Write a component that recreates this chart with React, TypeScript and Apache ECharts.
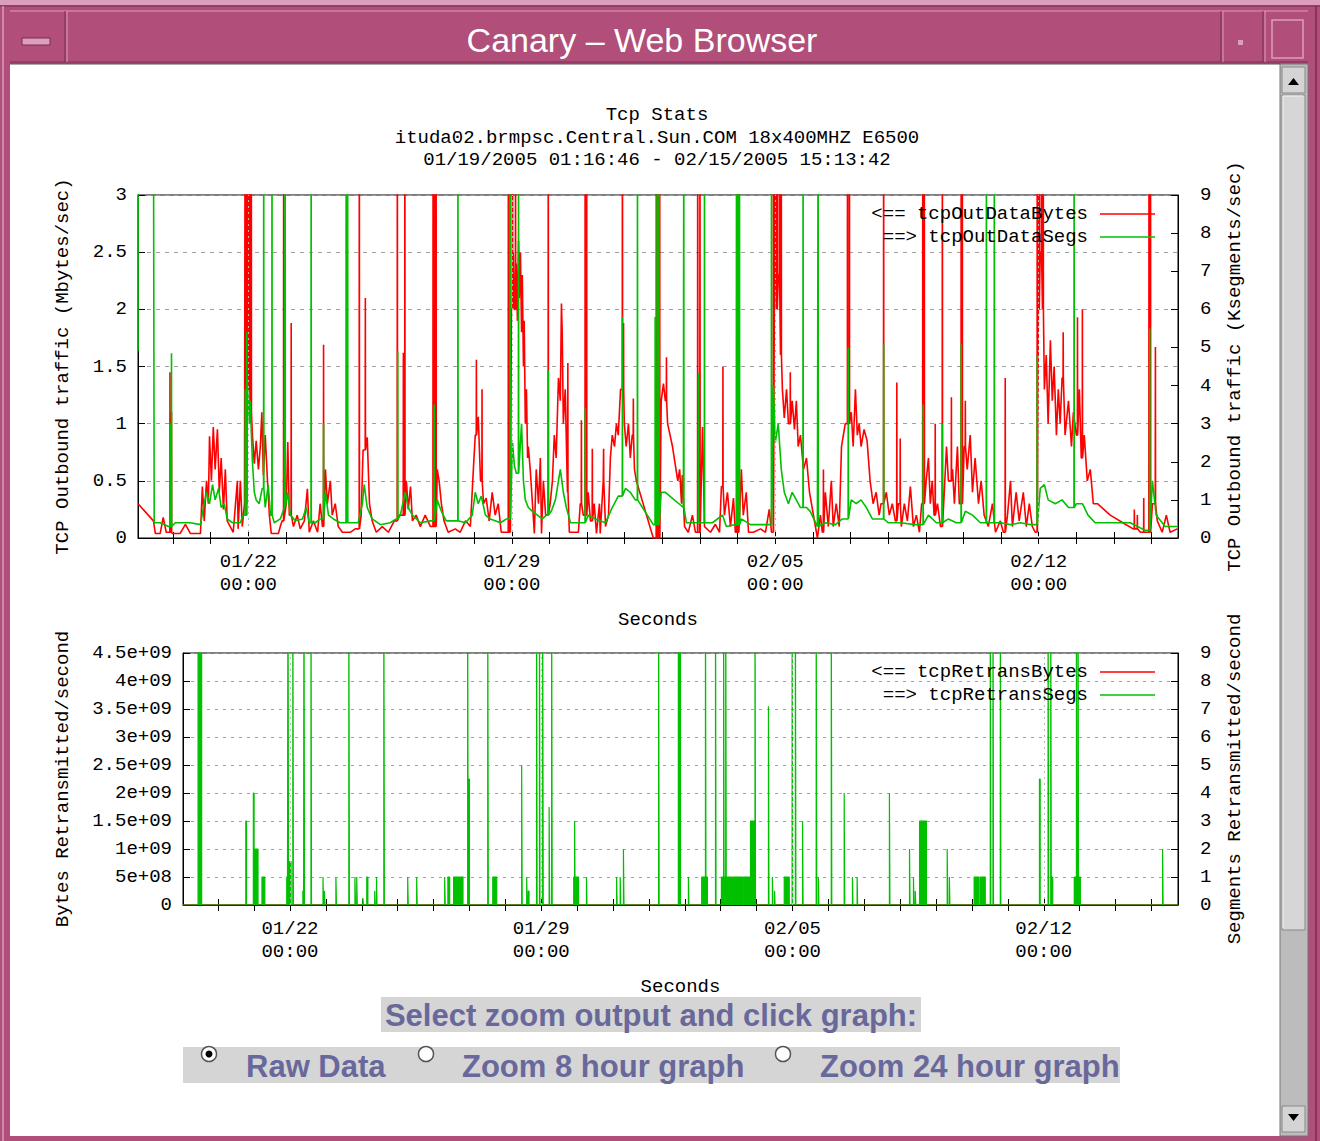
import React, { useEffect, useRef } from 'react';
import * as echarts from 'echarts';

// ---------- texts ----------
const WINDOW_TITLE = 'Canary – Web Browser';
const CHART_TITLE = [
  'Tcp Stats',
  'ituda02.brmpsc.Central.Sun.COM 18x400MHZ E6500',
  '01/19/2005 01:16:46 - 02/15/2005 15:13:42',
];
const TOP_Y_LEFT_NAME = 'TCP Outbound traffic (Mbytes/sec)';
const TOP_Y_RIGHT_NAME = 'TCP Outbound traffic (Ksegments/sec)';
const BOT_Y_LEFT_NAME = 'Bytes Retransmitted/second';
const BOT_Y_RIGHT_NAME = 'Segments Retransmitted/second';
const X_NAME = 'Seconds';
const TOP_LEGEND = ['<== tcpOutDataBytes', '==> tcpOutDataSegs'];
const BOT_LEGEND = ['<== tcpRetransBytes', '==> tcpRetransSegs'];
const FORM_PROMPT = 'Select zoom output and click graph:';
const FORM_OPTIONS = ['Raw Data', 'Zoom 8 hour graph', 'Zoom 24 hour graph'];

// ---------- time axis (days since 01/19/2005 00:00) ----------
const TOP_X_RANGE = [0.07, 27.7];
const BOT_X_RANGE = [0.02, 27.74];
const DAY_TICKS = [1, 2, 3, 4, 5, 6, 7, 8, 9, 10, 11, 12, 13, 14, 15, 16, 17, 18, 19, 20, 21, 22, 23, 24, 25, 26, 27];
const WEEK_TICKS = [3, 10, 17, 24];

// ---------- top chart: tcpOutDataBytes (Mbytes/sec), [day, value] pairs ----------
const RED_BASE = [
  0.07,0.30, 0.48,0.15, 0.53,0.04, 0.66,0.04, 0.74,0.18, 0.82,0.05, 0.98,0.04, 1.19,0.04, 1.33,0.12, 1.46,0.04,
  1.73,0.04, 1.78,0.45, 1.83,0.15, 1.89,0.5, 1.94,0.3, 1.97,0.89, 2.02,0.5, 2.07,0.97, 2.12,0.6, 2.18,0.95,
  2.23,0.4, 2.28,0.7, 2.34,0.25, 2.39,0.6, 2.44,0.15, 2.52,0.1, 2.6,0.05, 2.71,0.5, 2.73,0.08, 2.79,0.5,
  2.84,0.1, 2.9,0.3, 2.97,1.3, 3.05,1.1, 3.11,0.9, 3.16,0.65, 3.21,0.85, 3.27,0.6, 3.32,0.8, 3.36,1.1,
  3.4,0.55, 3.45,0.9, 3.51,0.5, 3.56,0.2, 3.61,0.04, 3.8,0.04, 3.85,0.1, 3.9,0.15, 4.01,0.3, 4.05,0.84,
  4.09,0.2, 4.2,0.1, 4.3,0.2, 4.38,0.08, 4.49,0.15, 4.57,0.43, 4.62,0.05, 4.73,0.15, 4.84,0.05, 4.91,0.3,
  4.97,0.1, 5.05,0.6, 5.1,0.3, 5.18,0.5, 5.23,0.2, 5.31,0.3, 5.39,0.1, 5.5,0.05, 5.71,0.05, 5.84,0.08,
  6.0,0.2, 6.05,0.77, 6.16,0.88, 6.22,0.3, 6.29,0.15, 6.4,0.05, 6.56,0.1, 6.72,0.05, 6.88,0.15, 7.01,0.2,
  7.2,0.5, 7.25,0.25, 7.31,0.45, 7.36,0.15, 7.46,0.2, 7.57,0.1, 7.7,0.2, 7.84,0.1, 8.02,0.6, 8.07,0.5,
  8.13,0.3, 8.2,0.15, 8.31,0.05, 8.5,0.08, 8.63,0.05, 8.77,0.15, 8.9,0.1, 8.98,0.6, 9.03,0.9, 9.11,1.06,
  9.17,0.5, 9.25,0.3, 9.32,0.35, 9.4,0.15, 9.48,0.4, 9.56,0.2, 9.64,0.3, 9.72,0.05, 9.86,0.05, 9.99,2.0,
  10.04,2.5, 10.07,2.0, 10.12,2.4, 10.15,1.9, 10.18,2.6, 10.2,2.1, 10.23,2.5, 10.26,1.8, 10.28,2.3, 10.31,1.5,
  10.33,1.9, 10.36,1.0, 10.39,1.3, 10.42,0.7, 10.44,0.8, 10.49,0.6, 10.55,0.3, 10.6,0.04, 10.65,0.6, 10.71,0.3,
  10.76,0.7, 10.79,0.04, 10.84,0.5, 10.9,0.2, 11.02,0.3, 11.08,0.5, 11.13,0.9, 11.18,0.7, 11.24,1.4, 11.29,1.2,
  11.32,2.05, 11.34,1.8, 11.37,1.0, 11.42,1.3, 11.48,0.4, 11.53,0.05, 11.77,0.05, 11.82,0.3, 11.9,0.2, 12.03,0.4,
  12.09,0.15, 12.19,0.3, 12.25,0.04, 12.33,0.3, 12.35,0.04, 12.43,0.5, 12.49,0.1, 12.57,0.2, 12.62,0.7, 12.67,0.9,
  12.73,0.8, 12.78,1.0, 12.83,0.9, 12.89,1.3, 12.99,1.0, 13.04,0.8, 13.1,1.0, 13.15,0.7, 13.2,0.9, 13.26,0.6,
  13.31,0.5, 13.76,0.0, 13.97,1.2, 14.03,1.35, 14.08,1.2, 14.14,1.0, 14.27,0.8, 14.41,0.5, 14.46,0.6, 14.51,0.3,
  14.53,0.55, 14.59,0.1, 14.69,0.05, 14.8,0.2, 14.88,0.05, 15.07,0.97, 15.12,0.1, 15.28,0.05, 15.41,0.12, 15.52,0.05,
  15.57,0.45, 15.65,0.2, 15.73,0.4, 15.81,0.1, 15.89,0.35, 15.94,0.05, 16.1,0.6, 16.15,0.2, 16.23,0.4, 16.29,0.05,
  16.42,0.05, 16.61,0.08, 16.74,0.05, 16.84,0.25, 16.9,0.05, 16.98,2.5, 17.03,2.0, 17.08,2.3, 17.14,1.6, 17.19,1.3,
  17.24,1.05, 17.3,1.3, 17.35,1.0, 17.45,1.2, 17.51,0.95, 17.56,1.2, 17.61,0.8, 17.67,0.9, 17.75,0.6, 17.83,0.7,
  17.91,0.4, 18.12,0.0, 18.2,0.2, 18.25,0.05, 18.33,0.4, 18.41,0.1, 18.49,0.5, 18.54,0.1, 18.62,0.3, 18.7,0.1,
  18.76,0.8, 18.81,0.9, 18.86,1.0, 19.02,1.1, 19.07,0.8, 19.13,1.3, 19.18,0.9, 19.23,1.0, 19.28,0.8, 19.36,0.95,
  19.44,0.85, 19.52,0.5, 19.6,0.3, 19.68,0.4, 19.76,0.2, 19.81,0.3, 19.95,0.4, 20.03,0.2, 20.11,0.3, 20.19,0.15,
  20.27,0.3, 20.35,0.1, 20.43,0.3, 20.51,0.15, 20.59,0.45, 20.67,0.1, 20.75,0.2, 20.83,0.05, 20.89,0.3, 21.01,0.5,
  21.07,0.7, 21.12,0.3, 21.17,0.5, 21.22,0.2, 21.31,0.3, 21.39,0.1, 21.49,0.4, 21.55,0.8, 21.6,0.5, 21.71,0.6,
  21.76,0.3, 21.84,0.8, 21.89,0.3, 22.02,0.8, 22.1,0.6, 22.18,0.9, 22.24,0.4, 22.31,0.7, 22.4,0.3, 22.47,0.5,
  22.55,0.2, 22.66,0.1, 22.77,0.3, 22.85,0.05, 22.98,0.15, 23.06,0.05, 23.17,0.2, 23.25,0.5, 23.3,0.1, 23.4,0.4,
  23.48,0.15, 23.59,0.4, 23.67,0.1, 23.75,0.3, 23.83,0.1, 23.91,0.05, 23.99,2.0, 24.04,2.5, 24.1,2.0, 24.15,1.3,
  24.2,1.6, 24.25,1.0, 24.31,1.73, 24.36,1.2, 24.41,1.5, 24.47,0.9, 24.52,1.3, 24.57,1.0, 24.62,1.4, 24.7,0.9,
  24.79,1.2, 24.87,0.8, 24.92,1.1, 25.0,0.9, 25.08,1.3, 25.13,0.7, 25.21,0.9, 25.29,0.5, 25.37,0.6, 25.45,0.3,
  25.56,0.3, 25.9,0.2, 26.3,0.12, 26.51,0.08, 26.7,0.05, 26.86,0.05, 27.02,0.3, 27.15,0.15, 27.28,0.05, 27.39,0.2,
  27.49,0.05, 27.68,0.08,
];
// narrow spikes: [day, peak]
const RED_SPIKES = [
  0.92,1.45, 0.96,1.1, 2.92,5, 2.96,5, 3.0,5, 3.04,5, 3.08,5, 3.94,5, 4.14,1.88, 5.0,1.69,
  5.95,5, 6.11,2.1, 6.96,5, 7.12,1.62, 7.16,5, 7.91,5, 7.95,5, 7.99,5, 9.06,1.56, 9.21,1.3,
  9.91,5, 9.96,5, 10.02,5, 10.1,3.5, 10.97,5, 11.49,1.53, 11.85,1.03, 11.95,5, 11.99,5, 12.14,0.78,
  12.44,0.78, 12.94,5, 12.97,1.88, 13.23,1.22, 13.84,5, 13.89,5, 13.93,5, 14.11,1.58, 14.94,5, 15.0,5,
  15.61,1.5, 15.98,5, 16.03,5, 16.95,5, 17.0,5, 17.05,5, 17.11,5, 17.16,5, 17.4,1.45, 18.28,0.6,
  18.92,5, 18.97,5, 19.88,5, 20.23,1.36, 20.32,0.87, 20.92,5, 20.96,5, 21.25,1.0, 21.44,5, 21.68,1.23,
  21.94,5, 21.97,5, 22.05,1.2, 23.11,1.4, 23.96,5, 24.01,5, 24.07,5, 24.12,5, 24.65,1.8, 25.03,1.93,
  25.16,2.0, 26.54,0.25, 26.62,0.2, 26.79,0.35, 26.93,5, 26.97,5, 27.1,1.67,
];

// ---------- top chart: tcpOutDataSegs (Ksegments/sec) ----------
const GREEN_BASE = [
  0.07,4.9, 0.075,12, 0.48,12, 0.5,0.4, 0.66,0.4, 0.88,0.3, 1.06,0.4, 1.46,0.4, 1.73,0.35, 1.81,0.8,
  1.89,1.2, 1.97,0.9, 2.05,1.4, 2.12,1.0, 2.21,1.3, 2.28,0.8, 2.36,0.9, 2.44,0.5, 2.58,0.4, 2.79,0.4,
  2.86,0.6, 2.97,4.2, 3.03,3.0, 3.05,3.6, 3.11,2.0, 3.16,1.2, 3.21,1.0, 3.29,0.9, 3.37,1.3, 3.45,0.8,
  3.53,1.4, 3.59,0.6, 3.69,0.4, 3.85,0.5, 3.96,0.8, 4.04,1.2, 4.12,0.6, 4.25,0.45, 4.44,0.5, 4.54,0.8,
  4.62,0.4, 4.78,0.4, 4.91,0.5, 5.05,1.2, 5.13,0.6, 5.26,0.5, 5.44,0.4, 5.71,0.4, 5.92,0.4, 6.03,0.9,
  6.08,1.4, 6.16,0.8, 6.29,0.5, 6.51,0.35, 6.77,0.4, 6.93,0.5, 7.04,0.6, 7.17,1.2, 7.25,0.8, 7.36,0.6,
  7.57,0.4, 7.84,0.45, 8.02,1.0, 8.13,0.7, 8.26,0.45, 8.77,0.4, 8.95,0.6, 9.03,1.2, 9.11,0.9, 9.19,1.1,
  9.3,0.6, 9.43,0.5, 9.7,0.4, 9.86,0.5, 10.02,2.5, 10.07,1.9, 10.12,1.7, 10.2,2.0, 10.26,3.0, 10.31,1.5,
  10.36,1.0, 10.44,0.8, 10.55,0.7, 10.68,0.6, 10.81,0.5, 10.92,0.6, 11.05,0.7, 11.16,1.0, 11.24,1.5, 11.29,1.8,
  11.37,1.2, 11.45,0.8, 11.56,0.4, 11.82,0.4, 12.03,0.6, 12.22,0.5, 12.49,0.4, 12.67,0.8, 12.83,1.1, 13.02,1.3,
  13.15,1.2, 13.28,1.0, 13.76,0.35, 13.97,1.2, 14.08,1.2, 14.56,0.8, 14.64,0.4, 14.88,0.4, 15.04,0.4, 15.33,0.4,
  15.6,0.6, 15.7,0.3, 15.91,0.35, 16.1,0.5, 16.34,0.35, 16.74,0.35, 16.95,4.0, 17.0,2.5, 17.08,3.0, 17.16,1.8,
  17.24,1.2, 17.35,0.9, 17.45,1.2, 17.56,1.0, 17.67,0.8, 17.83,0.8, 17.93,0.7, 18.12,0.3, 18.33,0.4, 18.6,0.35,
  18.78,0.5, 19.02,1.0, 19.15,0.9, 19.28,1.0, 19.42,0.8, 19.58,0.5, 20.0,0.4, 20.32,0.4, 20.72,0.35, 21.07,0.6,
  21.28,0.4, 21.6,0.5, 21.81,0.4, 22.05,0.7, 22.24,0.6, 22.45,0.4, 22.98,0.4, 23.25,0.35, 23.51,0.4, 23.78,0.35,
  24.04,1.3, 24.15,1.4, 24.25,1.0, 24.44,0.9, 24.62,1.0, 24.79,0.8, 25.0,0.9, 25.16,0.9, 25.31,0.6, 25.5,0.4,
  25.9,0.4, 26.43,0.4, 26.83,0.2, 27.02,1.5, 27.12,0.6, 27.36,0.3, 27.68,0.3,
];
const GREEN_SPIKES = [
  0.92,3.0, 0.96,4.85, 2.92,3.9, 2.96,5.4, 3.41,12, 3.63,12, 3.98,12, 4.67,12, 5.0,3.0, 5.6,12,
  5.64,12, 6.97,4.9, 7.94,3.5, 8.57,12, 9.96,12, 10.18,12, 10.97,4.4, 11.95,3.4, 12.94,5.8, 13.34,12,
  13.81,5.8, 13.86,12, 13.91,12, 14.57,12, 14.96,4.3, 15.12,12, 15.97,12, 16.01,12, 16.05,12, 16.9,12,
  17.74,12, 18.14,12, 18.94,5.0, 19.88,5.1, 20.93,3.5, 21.44,3.0, 21.94,5.1, 22.61,12, 22.82,12, 23.96,4.8,
  24.94,12, 26.95,5.5,
];

// ---------- bottom chart ----------
// tcpRetransBytes stays at zero over the whole period
const RETRANS_BYTES = [0.02,0, 13.9,0, 27.74,0];
// tcpRetransSegs pulses: [startDay, endDay, segments/sec]
const RETRANS_SEGS = [
  0.44,0.54,12, 1.77,1.79,3, 1.98,2.0,4, 2.0,2.11,2, 2.22,2.3,1, 2.91,2.93,1, 2.945,2.96,12, 2.99,3.03,1.55,
  3.08,3.095,12, 3.36,3.38,0.5, 3.39,3.405,12, 3.585,3.6,12, 3.92,3.935,1, 3.96,3.975,0.5, 4.28,4.295,1,
  4.64,4.655,12, 4.81,4.825,1, 4.86,4.875,1, 5.03,5.045,0.25, 5.14,5.17,1, 5.36,5.375,0.5, 5.41,5.425,1,
  5.615,5.63,12, 6.28,6.295,1, 6.53,6.545,1, 7.31,7.325,1, 7.4,7.45,1, 7.56,7.66,1, 7.68,7.82,1,
  7.95,7.965,12, 7.98,8.0,4.5, 8.51,8.525,12, 8.65,8.76,1, 9.455,9.47,5, 9.595,9.61,1, 9.64,9.66,0.5,
  9.87,9.885,12, 9.95,9.965,12, 10.04,10.055,12, 10.22,10.235,3.5, 10.29,10.305,12, 10.905,10.93,1,
  10.93,10.945,3, 10.945,11.04,1, 11.26,11.275,1, 12.1,12.115,1, 12.2,12.215,1, 12.29,12.305,2,
  13.27,13.285,12, 13.82,13.88,12, 14.1,14.115,1, 14.47,14.575,1, 14.575,14.59,12, 14.59,14.63,1,
  14.855,14.87,12, 15.02,15.08,1, 15.08,15.095,12, 15.095,15.14,1, 15.14,15.155,12, 15.155,15.3,1,
  15.33,15.6,1, 15.63,15.83,1, 15.83,15.955,3, 15.955,15.97,12, 16.33,16.345,7.1, 16.44,16.455,1,
  16.5,16.515,0.5, 16.77,16.91,1, 16.99,17.005,12, 17.08,17.095,12, 17.28,17.295,3, 17.66,17.675,12,
  17.72,17.735,1, 18.08,18.095,12, 18.44,18.455,4, 18.67,18.685,1, 18.8,18.815,1, 19.7,19.715,4,
  20.26,20.275,2, 20.37,20.385,1, 20.42,20.435,0.5, 20.54,20.73,3, 21.31,21.325,2, 21.37,21.385,1,
  22.06,22.2,1, 22.24,22.37,1, 22.51,22.525,12, 22.585,22.6,12, 22.79,22.805,12, 23.88,23.9,4.5,
  24.12,24.135,12, 24.195,24.21,12, 24.21,24.25,1, 24.85,24.91,1, 24.91,24.925,12, 24.925,24.955,1,
  24.955,24.97,12, 24.97,25.02,1, 27.31,27.325,2,
];

// ---------- helpers ----------
function pairs(flat: number[]): [number, number][] {
  const out: [number, number][] = [];
  for (let i = 0; i + 1 < flat.length; i += 2) out.push([flat[i], flat[i + 1]]);
  return out;
}
// narrow spike: rises from the current level and returns to it
function withSpikes(base: number[], spikes: number[]): [number, number][] {
  const b = pairs(base);
  const s = pairs(spikes);
  const out: [number, number][] = [];
  const W = 0.004;
  let j = 0;
  let level = b[0][1];
  for (const p of b) {
    while (j < s.length && s[j][0] < p[0]) {
      const [sx, sv] = s[j];
      out.push([sx - W, level], [sx, sv], [sx + W, level]);
      j++;
    }
    out.push(p);
    level = p[1];
  }
  return out;
}
function pulses(blocks: number[], x0: number, x1: number): [number, number][] {
  const out: [number, number][] = [[x0, 0]];
  for (let i = 0; i + 2 < blocks.length; i += 3) {
    const s = blocks[i], e = blocks[i + 1], v = blocks[i + 2];
    out.push([s, 0], [s, v], [e, v], [e, 0]);
  }
  out.push([x1, 0]);
  return out;
}
const pad = (n: number) => String(n).padStart(2, '0');
function fmtDate(v: number): string {
  const t = new Date(Date.UTC(2005, 0, 19) + Math.round(v * 1440) * 60000);
  return `${pad(t.getUTCMonth() + 1)}/${pad(t.getUTCDate())}\n${pad(t.getUTCHours())}:${pad(t.getUTCMinutes())}`;
}
function fmtExp(v: number): string {
  if (v === 0) return '0';
  const [m, e] = Number(v.toPrecision(6)).toExponential().split('e');
  return `${m}e${e[0]}${e.slice(1).padStart(2, '0')}`;
}

const MONO = 'Liberation Mono';
const mono = { fontFamily: MONO, fontSize: 19, color: '#000' };
const RED = '#ff0000';
const GREEN = '#00c000';

function xAxes(grid: number, range: number[]) {
  return [
    {
      type: 'value', gridIndex: grid, position: 'bottom', min: range[0], max: range[1],
      axisLine: { show: true, onZero: false, lineStyle: { color: '#000', width: 1 } },
      axisTick: { show: true, inside: true, length: 6, customValues: DAY_TICKS, lineStyle: { color: '#000' } },
      axisLabel: { show: true, customValues: WEEK_TICKS, formatter: fmtDate, margin: 12, lineHeight: 23, ...mono },
      splitLine: { show: false },
      name: X_NAME, nameLocation: 'middle', nameGap: 72, nameTextStyle: { ...mono, lineHeight: 19 },
    },
    {
      type: 'value', gridIndex: grid, position: 'top', min: range[0], max: range[1],
      axisLine: { show: false },
      axisTick: { show: true, inside: true, length: 6, customValues: DAY_TICKS, lineStyle: { color: '#000' } },
      axisLabel: { show: false },
      splitLine: { show: false },
    },
  ];
}
function yAxis(grid: number, pos: string, max: number, interval: number, name: string, gap: number, margin: number, split: any, formatter?: any) {
  return {
    type: 'value', gridIndex: grid, position: pos, min: 0, max, interval,
    axisLine: { show: true, onZero: false, lineStyle: { color: '#000', width: 1 } },
    axisTick: { show: true, inside: true, length: 7, lineStyle: { color: '#000' } },
    axisLabel: { margin, formatter, ...mono },
    splitLine: split,
    name, nameLocation: 'middle', nameRotate: 90, nameGap: gap, nameTextStyle: { ...mono, lineHeight: 19 },
  };
}

// ---------- decoration ----------
const PINK = '#b14e79';
const PINK_LIGHT = '#dc9ebd';
const PINK_DARK = '#7a2d50';
const FORM_COLOR = '#68689b';
const FORM_BG = '#d5d5d5';

function rect(x: number, y: number, w: number, h: number, style: any, z = -5) {
  return { type: 'rect', shape: { x, y, width: w, height: h }, style, z, silent: true };
}
function seg(x1: number, y1: number, x2: number, y2: number, stroke: string, lineWidth = 1, z = -4) {
  return { type: 'line', shape: { x1, y1, x2, y2 }, style: { stroke, lineWidth }, z, silent: true };
}
function txt(text: string, x: number, y: number, font: string, fill: string, align = 'center', z = 20) {
  return {
    type: 'text', x, y, z, silent: true,
    style: { text, font, fill, align, textAlign: align, verticalAlign: 'middle', textVerticalAlign: 'middle' },
  };
}

function buildGraphic() {
  const g: any[] = [];
  // window frame
  g.push(rect(0, 0, 1320, 1141, { fill: PINK }, -30));
  g.push(rect(0, 0, 1320, 5, { fill: PINK_LIGHT }, -29));
  g.push(seg(0, 6, 1320, 6, PINK_DARK, 1, -29));
  g.push(seg(3, 6, 3, 1141, PINK_LIGHT, 1.5, -29));
  g.push(seg(1316, 6, 1316, 1141, PINK_DARK, 1.5, -29));
  g.push(seg(10, 11, 1308, 11, PINK_LIGHT, 1, -29));
  g.push(seg(10, 62, 1308, 62, PINK_DARK, 1, -29));
  g.push(seg(65, 11, 65, 62, PINK_DARK, 1, -29));
  g.push(seg(67, 11, 67, 62, PINK_LIGHT, 1, -29));
  g.push(seg(1221, 11, 1221, 62, PINK_DARK, 1, -29));
  g.push(seg(1223, 11, 1223, 62, PINK_LIGHT, 1, -29));
  g.push(seg(1263, 11, 1263, 62, PINK_DARK, 1, -29));
  g.push(seg(1265, 11, 1265, 62, PINK_LIGHT, 1, -29));
  g.push(rect(22, 38, 28, 7, { fill: PINK_LIGHT, stroke: PINK_DARK, lineWidth: 1 }, -28));
  g.push(rect(1238, 40, 5, 5, { fill: PINK_LIGHT }, -28));
  g.push(rect(1272, 20, 31, 38, { fill: 'none', stroke: PINK_LIGHT, lineWidth: 1.5 }, -28));
  g.push(txt(WINDOW_TITLE, 642, 40, '34px "Liberation Sans"', '#ffffff', 'center', -27));
  // page content
  g.push(rect(10, 64, 1270, 1072, { fill: '#ffffff' }, -26));
  g.push(seg(10, 64, 1280, 64, '#555', 1, -25));
  // scrollbar
  g.push(rect(1280, 64, 28, 1072, { fill: '#bcbcbc', stroke: '#777', lineWidth: 1 }, -25));
  g.push(rect(1282, 67, 23, 26, { fill: '#d4d4d4', stroke: '#888', lineWidth: 1 }, -24));
  g.push({ type: 'polygon', shape: { points: [[1288, 85], [1299, 85], [1293.5, 78]] }, style: { fill: '#000' }, z: -23, silent: true });
  g.push(rect(1282, 95, 23, 835, { fill: '#d6d6d6', stroke: '#888', lineWidth: 1 }, -24));
  g.push(seg(1283, 96, 1303, 96, '#f4f4f4', 1, -23));
  g.push(seg(1283, 96, 1283, 928, '#f4f4f4', 1, -23));
  g.push(rect(1282, 1106, 23, 26, { fill: '#d4d4d4', stroke: '#888', lineWidth: 1 }, -24));
  g.push({ type: 'polygon', shape: { points: [[1288, 1114], [1299, 1114], [1293.5, 1121]] }, style: { fill: '#000' }, z: -23, silent: true });

  // chart title
  const tf = `19px "${MONO}"`;
  CHART_TITLE.forEach((t, i) => g.push(txt(t, 657, 115 + i * 22.5, tf, '#000')));
  // legends (gnuplot style key)
  const legend = (labels: string[], y0: number, colors: string[]) => {
    labels.forEach((t, i) => {
      const y = y0 + i * 23;
      g.push(txt(t, 1088, y, tf, '#000', 'right'));
      g.push(seg(1100, y, 1155, y, colors[i], 1.5, 20));
    });
  };
  legend(TOP_LEGEND, 214, [RED, GREEN]);
  legend(BOT_LEGEND, 672, [RED, GREEN]);

  // zoom form
  const ff = 'bold 31px "Liberation Sans"';
  g.push(rect(381, 997, 540, 35, { fill: FORM_BG }, -20));
  g.push(txt(FORM_PROMPT, 651, 1015, ff, FORM_COLOR));
  g.push(rect(183, 1047, 937, 36, { fill: FORM_BG }, -20));
  const radioX = [209, 426, 783];
  const labelX = [246, 462, 820];
  FORM_OPTIONS.forEach((t, i) => {
    g.push({ type: 'circle', shape: { cx: radioX[i], cy: 1054, r: 7.5 }, style: { fill: '#fff', stroke: '#555', lineWidth: 1.5 }, z: 20, silent: true });
    if (i === 0) g.push({ type: 'circle', shape: { cx: radioX[i], cy: 1054, r: 3.5 }, style: { fill: '#000' }, z: 21, silent: true });
    g.push(txt(t, labelX[i], 1066, ff, FORM_COLOR, 'left'));
  });
  return g;
}

export default function App() {
  const ref = useRef<HTMLDivElement>(null);
  useEffect(() => {
    if (!ref.current) return;
    const chart = echarts.init(ref.current, undefined, { renderer: 'svg' });
    const gridStyle = { show: true, borderColor: '#000', borderWidth: 1, backgroundColor: 'transparent', containLabel: false, outerBoundsMode: 'none' };
    const dashed = (type: number[]) => ({ show: true, lineStyle: { color: '#a0a0a0', width: 1, type } });
    const weekLines = {
      silent: true, symbol: ['none', 'none'], label: { show: false },
      lineStyle: { color: '#b8b8b8', width: 1, type: [2, 4] },
      data: WEEK_TICKS.map((v) => ({ xAxis: v })),
    };
    const option: any = {
      animation: false,
      backgroundColor: PINK,
      grid: [
        { left: 138, top: 195, width: 1040, height: 343, ...gridStyle },
        { left: 183, top: 653, width: 995, height: 252, ...gridStyle },
      ],
      xAxis: [...xAxes(0, TOP_X_RANGE), ...xAxes(1, BOT_X_RANGE)],
      yAxis: [
        yAxis(0, 'left', 3, 0.5, TOP_Y_LEFT_NAME, 66, 11, dashed([4, 5])),
        yAxis(0, 'right', 9, 1, TOP_Y_RIGHT_NAME, 47, 22, { show: false }),
        yAxis(1, 'left', 4.5e9, 5e8, BOT_Y_LEFT_NAME, 111, 11, dashed([3, 5]), fmtExp),
        yAxis(1, 'right', 9, 1, BOT_Y_RIGHT_NAME, 47, 22, { show: false }),
      ],
      series: [
        {
          name: 'tcpOutDataBytes', type: 'line', xAxisIndex: 0, yAxisIndex: 0,
          data: withSpikes(RED_BASE, RED_SPIKES), symbol: 'none', showSymbol: false, clip: true,
          lineStyle: { color: RED, width: 1.6 }, itemStyle: { color: RED }, z: 3, markLine: weekLines,
        },
        {
          name: 'tcpOutDataSegs', type: 'line', xAxisIndex: 0, yAxisIndex: 1,
          data: withSpikes(GREEN_BASE, GREEN_SPIKES), symbol: 'none', showSymbol: false, clip: true,
          lineStyle: { color: GREEN, width: 1.6 }, itemStyle: { color: GREEN }, z: 4,
        },
        {
          name: 'tcpRetransBytes', type: 'line', xAxisIndex: 2, yAxisIndex: 2,
          data: pairs(RETRANS_BYTES), symbol: 'none', showSymbol: false, clip: true,
          lineStyle: { color: RED, width: 1 }, itemStyle: { color: RED }, z: 3, markLine: weekLines,
        },
        {
          name: 'tcpRetransSegs', type: 'line', xAxisIndex: 2, yAxisIndex: 3,
          data: pulses(RETRANS_SEGS, BOT_X_RANGE[0], BOT_X_RANGE[1]), symbol: 'none', showSymbol: false, clip: true,
          lineStyle: { color: GREEN, width: 1.2 }, itemStyle: { color: GREEN },
          areaStyle: { color: GREEN, opacity: 1 }, z: 4,
        },
      ],
      graphic: { elements: buildGraphic() },
    };
    chart.setOption(option);
    return () => chart.dispose();
  }, []);
  return <div ref={ref} style={{ position: 'fixed', left: 0, top: 0, width: 1320, height: 1141 }} />;
}
